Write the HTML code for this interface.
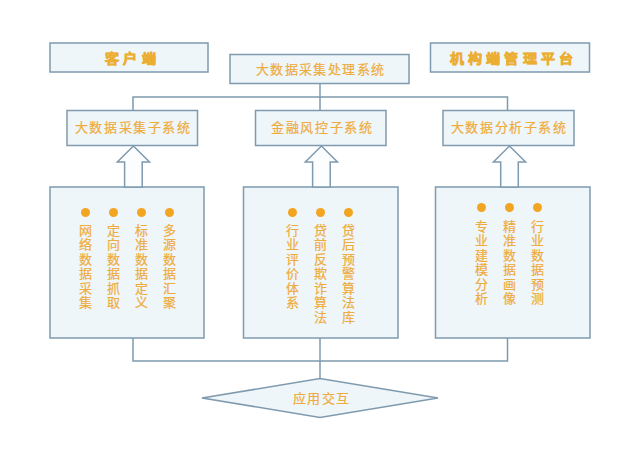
<!DOCTYPE html>
<html lang="zh-CN">
<head>
<meta charset="utf-8">
<style>
html,body{margin:0;padding:0;background:#ffffff;}
body{width:640px;height:462px;position:relative;overflow:hidden;font-family:"Liberation Sans",sans-serif;}
svg{position:absolute;left:0;top:0;}
.t{position:absolute;-webkit-text-stroke:0.22px #eeac3c;color:#eeac3c;font-size:13px;line-height:14px;white-space:nowrap;text-align:center;letter-spacing:1.6px;text-indent:1.6px;font-weight:400;}
.b{text-indent:0;transform:scaleY(0.92);font-weight:700;-webkit-text-stroke:0.7px #ebae33;color:#ebae33;font-size:14px;letter-spacing:4.05px;}
.dot{position:absolute;width:9px;height:9px;border-radius:50%;background:#f2a520;}
.col{position:absolute;-webkit-text-stroke:0.22px #eeac3c;width:20px;text-align:center;color:#eeac3c;font-size:13px;line-height:14.5px;font-weight:400;}
</style>
</head>
<body>
<svg width="640" height="462" viewBox="0 0 640 462">
  <g fill="#eef6fa" stroke="#7f9aae" stroke-width="1.5">
    <rect x="50" y="43" width="158" height="29"/>
    <rect x="230" y="54.5" width="179" height="29"/>
    <rect x="430.5" y="43" width="159" height="29"/>
    <rect x="67" y="110.5" width="130.5" height="35"/>
    <rect x="255.5" y="110.5" width="130.5" height="35"/>
    <rect x="443" y="110.5" width="131" height="35"/>
    <rect x="50" y="187" width="154" height="151"/>
    <rect x="243.5" y="187" width="154.5" height="151"/>
    <rect x="435.5" y="187" width="154.5" height="151"/>
  </g>
  <g fill="none" stroke="#7f9aae" stroke-width="1.5">
    <polyline points="133,110.5 133,97 507.5,97 507.5,110.5"/>
    <line x1="320" y1="83.5" x2="320" y2="110.5"/>
    <polyline points="133,338 133,361 507.5,361 507.5,338"/>
    <line x1="320" y1="338" x2="320" y2="379"/>
  </g>
  <g fill="#fcfdfe" stroke="#7f9aae" stroke-width="1.5" stroke-linejoin="miter">
    <polygon points="133.4,146 149.5,162 142.20000000000002,162 142.20000000000002,187 124.60000000000001,187 124.60000000000001,162 117.30000000000001,162"/>
    <polygon points="321.4,146 337.5,162 330.2,162 330.2,187 312.59999999999997,187 312.59999999999997,162 305.29999999999995,162"/>
    <polygon points="509.5,146 525.6,162 518.3,162 518.3,187 500.7,187 500.7,162 493.4,162"/>
  </g>
  <polygon points="202,398 320,378.6 438,398 320,417.4" fill="#eef6fa" stroke="#7f9aae" stroke-width="1.5"/>
</svg>

<div class="t b" style="left:51px;top:50.5px;width:163px;">客户端</div>
<div class="t" style="left:230px;top:63px;width:180px;letter-spacing:1.4px;text-indent:1.4px;">大数据采集处理系统</div>
<div class="t b" style="left:431px;top:50.5px;width:165px;">机构端管理平台</div>
<div class="t" style="left:67px;top:121px;width:131px;">大数据采集子系统</div>
<div class="t" style="left:256px;top:121px;width:131px;">金融风控子系统</div>
<div class="t" style="left:443px;top:121px;width:131px;">大数据分析子系统</div>
<div class="t" style="left:203px;top:392px;width:236px;">应用交互</div>

<div class="dot" style="left:80.80px;top:207.90px;"></div>
<div class="col" style="left:75.30px;top:223.5px;">网<br>络<br>数<br>据<br>采<br>集</div>
<div class="dot" style="left:108.90px;top:207.90px;"></div>
<div class="col" style="left:103.40px;top:223.5px;">定<br>向<br>数<br>据<br>抓<br>取</div>
<div class="dot" style="left:136.70px;top:207.90px;"></div>
<div class="col" style="left:131.20px;top:223.5px;">标<br>准<br>数<br>据<br>定<br>义</div>
<div class="dot" style="left:165.10px;top:207.90px;"></div>
<div class="col" style="left:159.60px;top:223.5px;">多<br>源<br>数<br>据<br>汇<br>聚</div>
<div class="dot" style="left:288.10px;top:207.70px;"></div>
<div class="col" style="left:282.60px;top:223.5px;">行<br>业<br>评<br>价<br>体<br>系</div>
<div class="dot" style="left:316.20px;top:207.70px;"></div>
<div class="col" style="left:310.70px;top:223.5px;">贷<br>前<br>反<br>欺<br>诈<br>算<br>法</div>
<div class="dot" style="left:344.40px;top:207.70px;"></div>
<div class="col" style="left:338.90px;top:223.5px;">贷<br>后<br>预<br>警<br>算<br>法<br>库</div>
<div class="dot" style="left:476.50px;top:202.50px;"></div>
<div class="col" style="left:471.00px;top:219.5px;">专<br>业<br>建<br>模<br>分<br>析</div>
<div class="dot" style="left:504.50px;top:202.50px;"></div>
<div class="col" style="left:499.00px;top:219.5px;">精<br>准<br>数<br>据<br>画<br>像</div>
<div class="dot" style="left:533.00px;top:202.50px;"></div>
<div class="col" style="left:527.50px;top:219.5px;">行<br>业<br>数<br>据<br>预<br>测</div>
</body>
</html>
